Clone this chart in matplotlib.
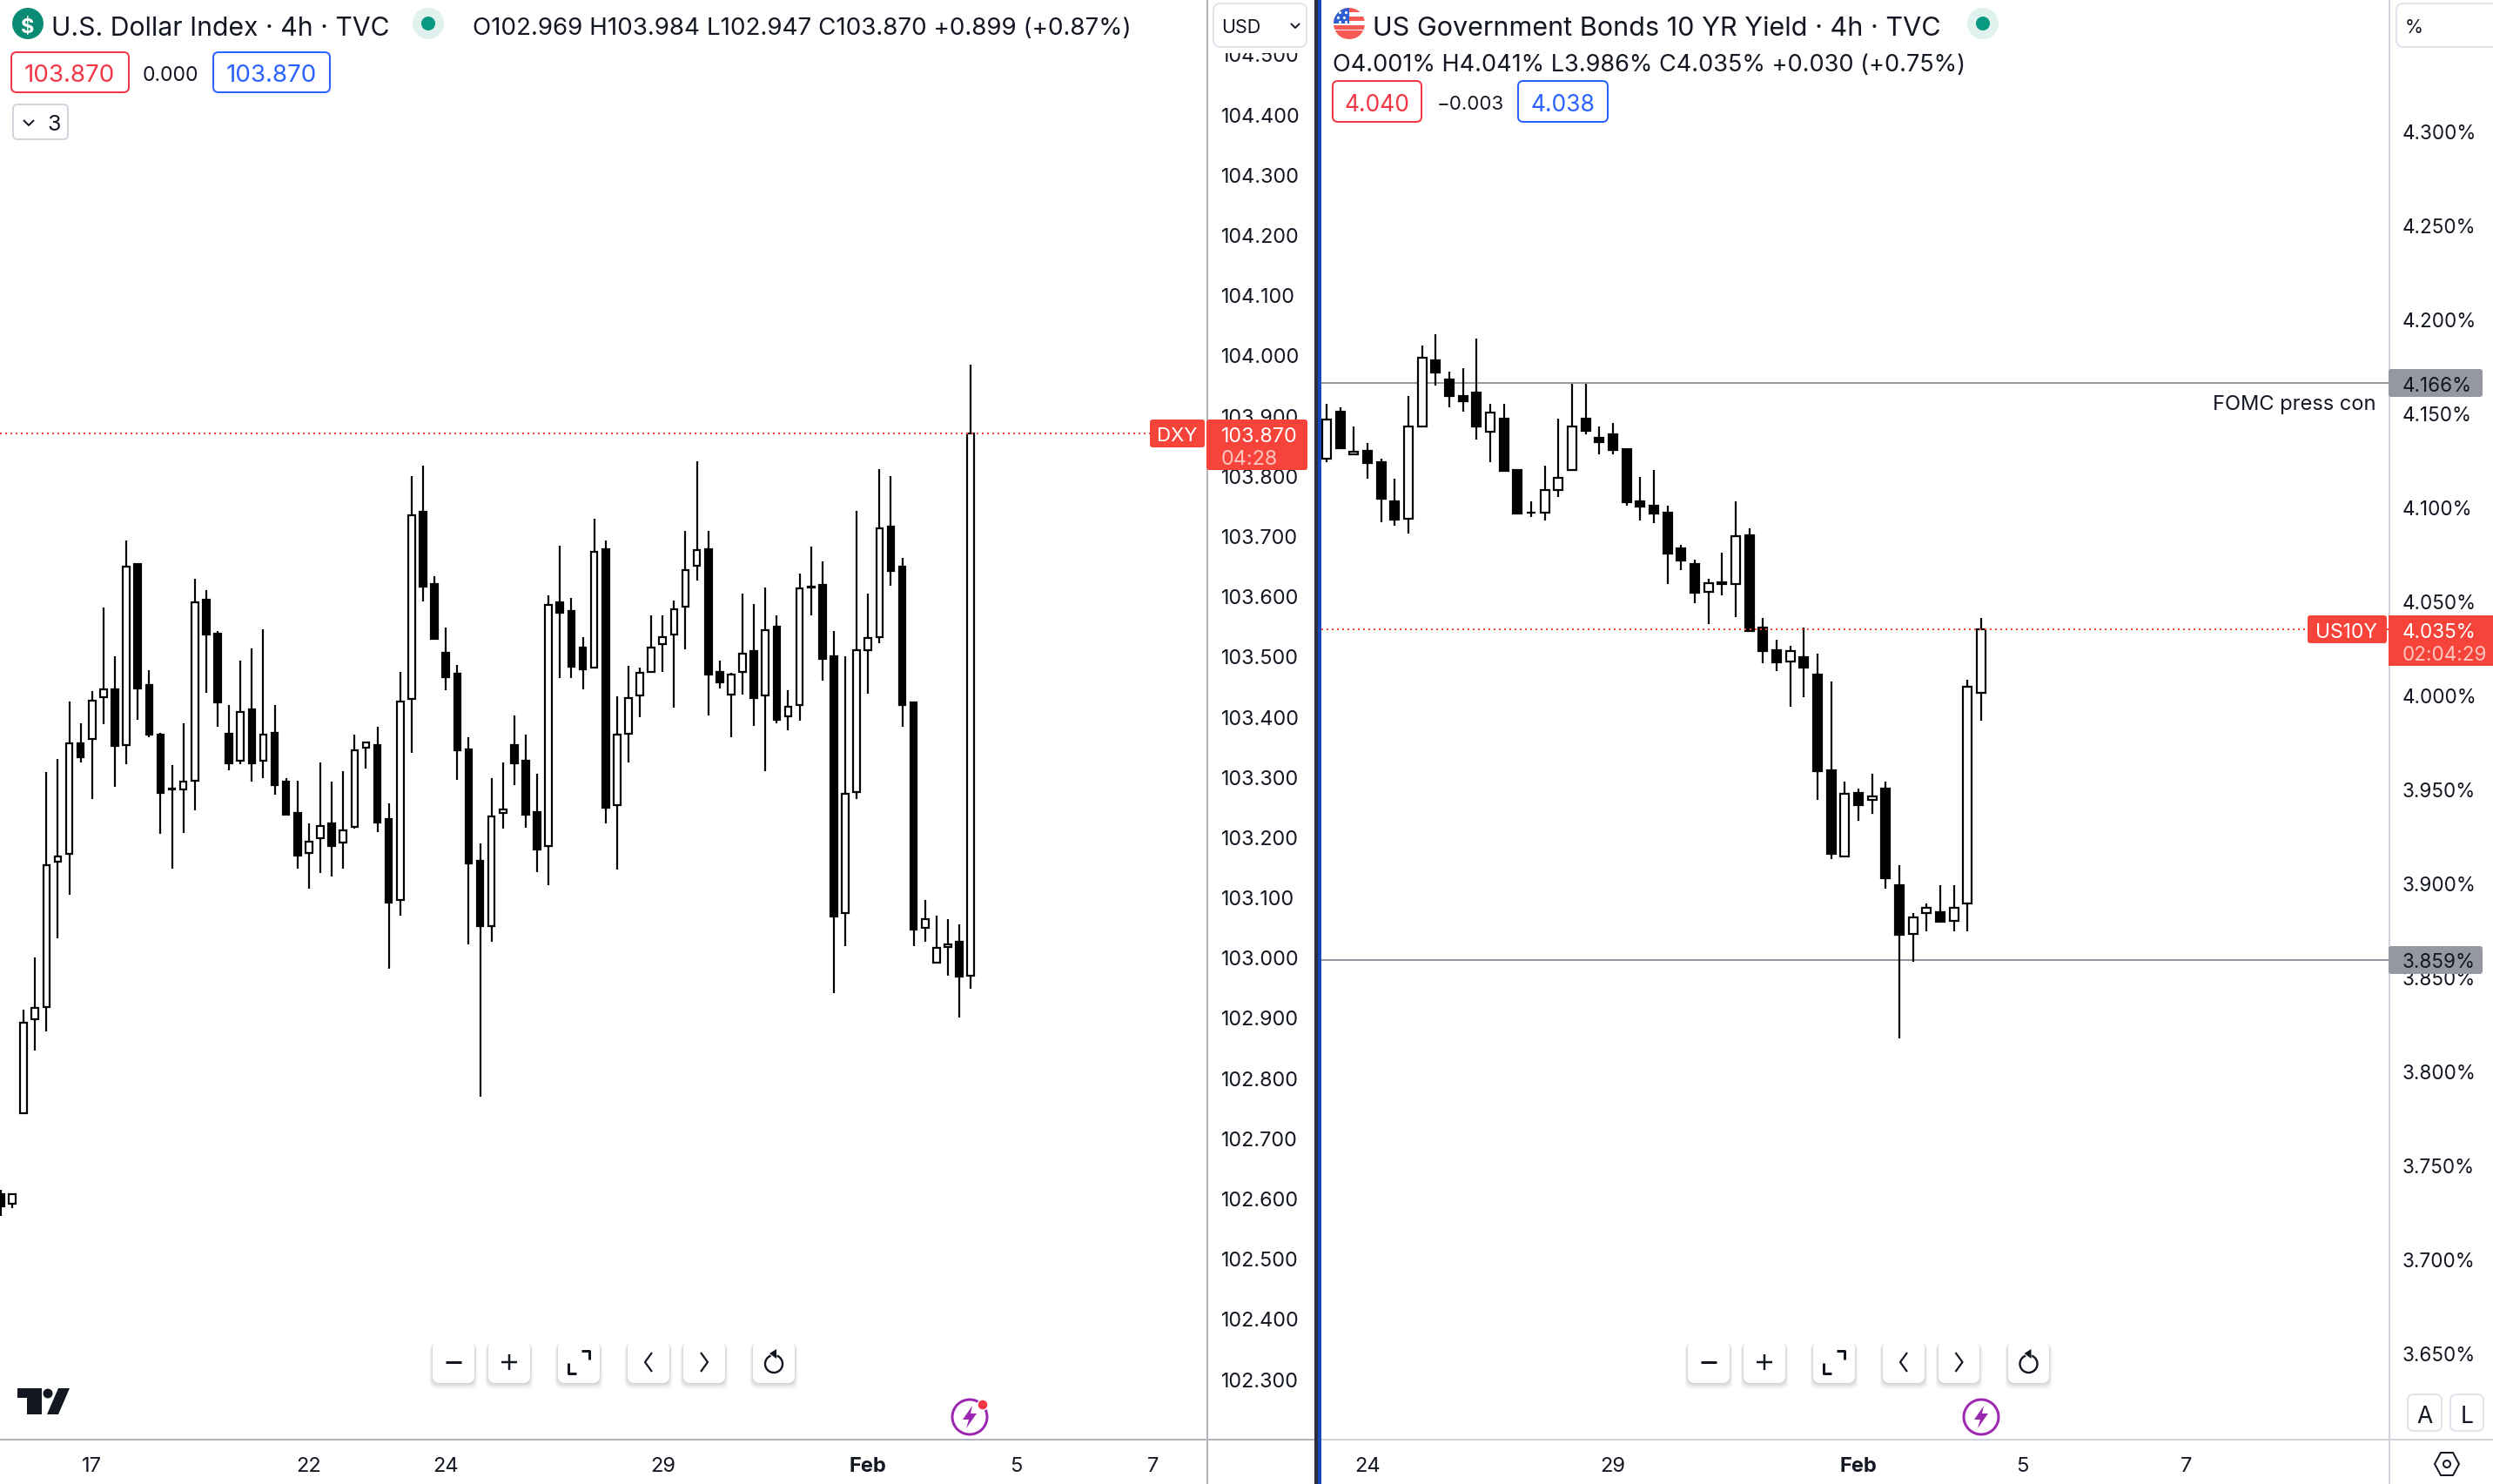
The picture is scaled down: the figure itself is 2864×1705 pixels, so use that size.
import numpy as np
import matplotlib
matplotlib.use("Agg")
import matplotlib.pyplot as plt
from matplotlib.patches import Rectangle, FancyBboxPatch, Circle, Polygon, Arc

plt.rcParams['font.family'] = ['Inter', 'DejaVu Sans']

# DXY 4h candles
dxy_open = [102.607, 102.591, 102.741, 102.897, 102.918, 103.158, 103.172, 103.355, 103.363, 103.432,
            103.445, 103.353, 103.653, 103.452, 103.369, 103.279, 103.279, 103.293, 103.594, 103.538,
            103.371, 103.327, 103.412, 103.327, 103.373, 103.291, 103.239, 103.173, 103.197, 103.223,
            103.191, 103.217, 103.348, 103.353, 103.230, 103.095, 103.429, 103.740, 103.620, 103.506,
            103.471, 103.345, 103.160, 103.052, 103.239, 103.353, 103.327, 103.241, 103.185, 103.590,
            103.575, 103.514, 103.481, 103.678, 103.253, 103.371, 103.435, 103.474, 103.520, 103.536,
            103.582, 103.650, 103.678, 103.474, 103.436, 103.474, 103.509, 103.435, 103.549, 103.400,
            103.419, 103.614, 103.618, 103.500, 103.074, 103.275, 103.510, 103.532, 103.715, 103.649,
            103.423, 103.049, 102.991, 103.017, 103.025, 102.969]
dxy_high = [102.614, 102.606, 102.913, 102.999, 103.308, 103.329, 103.425, 103.389, 103.442, 103.581,
            103.500, 103.692, 103.653, 103.477, 103.373, 103.319, 103.389, 103.629, 103.610, 103.542,
            103.419, 103.493, 103.513, 103.545, 103.419, 103.298, 103.293, 103.223, 103.324, 103.291,
            103.309, 103.370, 103.358, 103.383, 103.256, 103.474, 103.799, 103.817, 103.633, 103.548,
            103.486, 103.366, 103.189, 103.298, 103.324, 103.402, 103.370, 103.305, 103.601, 103.684,
            103.597, 103.532, 103.728, 103.692, 103.434, 103.484, 103.481, 103.568, 103.567, 103.593,
            103.708, 103.824, 103.708, 103.493, 103.473, 103.604, 103.587, 103.614, 103.567, 103.444,
            103.637, 103.682, 103.657, 103.542, 103.500, 103.741, 103.604, 103.811, 103.799, 103.663,
            103.423, 103.095, 103.069, 103.064, 103.054, 103.984]
dxy_low = [102.571, 102.584, 102.741, 102.845, 102.877, 103.032, 103.104, 103.324, 103.263, 103.387,
           103.283, 103.321, 103.394, 103.366, 103.205, 103.147, 103.207, 103.244, 103.439, 103.383,
           103.311, 103.321, 103.291, 103.298, 103.270, 103.236, 103.147, 103.114, 103.140, 103.134,
           103.147, 103.214, 103.314, 103.208, 102.981, 103.069, 103.340, 103.591, 103.528, 103.444,
           103.295, 103.022, 102.769, 103.025, 103.214, 103.286, 103.215, 103.142, 103.119, 103.464,
           103.464, 103.445, 103.481, 103.223, 103.145, 103.324, 103.399, 103.474, 103.474, 103.415,
           103.512, 103.626, 103.402, 103.447, 103.366, 103.436, 103.384, 103.309, 103.389, 103.377,
           103.393, 103.567, 103.460, 102.941, 103.019, 103.263, 103.438, 103.522, 103.617, 103.383,
           103.019, 103.026, 102.991, 102.970, 102.900, 102.947]
dxy_close = [102.587, 102.606, 102.892, 102.916, 103.153, 103.168, 103.355, 103.332, 103.426, 103.445,
             103.351, 103.649, 103.447, 103.369, 103.273, 103.280, 103.291, 103.590, 103.536, 103.423,
             103.322, 103.408, 103.322, 103.370, 103.286, 103.237, 103.169, 103.192, 103.218, 103.185,
             103.211, 103.343, 103.357, 103.224, 103.091, 103.425, 103.734, 103.616, 103.528, 103.465,
             103.344, 103.156, 103.052, 103.234, 103.246, 103.322, 103.237, 103.179, 103.585, 103.572,
             103.483, 103.478, 103.673, 103.249, 103.370, 103.431, 103.473, 103.514, 103.532, 103.578,
             103.643, 103.676, 103.470, 103.457, 103.470, 103.504, 103.431, 103.543, 103.394, 103.416,
             103.613, 103.615, 103.496, 103.068, 103.272, 103.510, 103.530, 103.712, 103.642, 103.419,
             103.046, 103.064, 103.016, 103.022, 102.968, 103.870]

# US10Y 4h candles
us10y_open = [4.1255, 4.1505, 4.1278, 4.1296, 4.1236, 4.1028, 4.0935, 4.1426, 4.1778, 4.1676,
              4.1588, 4.1607, 4.1400, 4.1468, 4.1194, 4.0971, 4.0969, 4.1090, 4.1194, 4.1468,
              4.1366, 4.1384, 4.1306, 4.1030, 4.1005, 4.0968, 4.0778, 4.0695, 4.0548, 4.0597,
              4.0590, 4.0848, 4.0356, 4.0236, 4.0176, 4.0198, 4.0106, 3.9597, 3.9138, 3.9476,
              3.9439, 3.9500, 3.8986, 3.8727, 3.8838, 3.8846, 3.8797, 3.8889, 4.0010]
us10y_high = [4.1546, 4.1528, 4.1426, 4.1338, 4.1255, 4.1148, 4.1588, 4.1857, 4.1917, 4.1718,
              4.1736, 4.1894, 4.1546, 4.1546, 4.1194, 4.1028, 4.1218, 4.1468, 4.1656, 4.1656,
              4.1426, 4.1445, 4.1306, 4.1158, 4.1194, 4.1005, 4.0797, 4.0718, 4.0616, 4.0755,
              4.1028, 4.0885, 4.0407, 4.0295, 4.0259, 4.0356, 4.0217, 4.0069, 3.9536, 3.9500,
              3.9578, 3.9536, 3.9096, 3.8838, 3.8889, 3.8986, 3.8986, 4.0078, 4.0410]
us10y_low = [4.1239, 4.1313, 4.1278, 4.1151, 4.0920, 4.0901, 4.0860, 4.1426, 4.1647, 4.1531,
             4.1508, 4.1360, 4.1239, 4.1193, 4.0966, 4.0948, 4.0929, 4.1050, 4.1194, 4.1387,
             4.1281, 4.1281, 4.1008, 4.0929, 4.0911, 4.0591, 4.0661, 4.0489, 4.0378, 4.0531,
             4.0411, 4.0337, 4.0168, 4.0128, 3.9938, 3.9989, 3.9442, 3.9124, 3.9138, 3.9331,
             3.9369, 3.8970, 3.8173, 3.8581, 3.8744, 3.8795, 3.8744, 3.8744, 3.9860]
us10y_close = [4.1466, 4.1313, 4.1295, 4.1235, 4.1045, 4.0934, 4.1425, 4.1795, 4.1716, 4.1587,
               4.1563, 4.1425, 4.1503, 4.1193, 4.0966, 4.0971, 4.1087, 4.1156, 4.1425, 4.1406,
               4.1346, 4.1304, 4.1026, 4.1003, 4.0966, 4.0753, 4.0716, 4.0545, 4.0596, 4.0587,
               4.0846, 4.0337, 4.0235, 4.0174, 4.0235, 4.0145, 3.9595, 3.9155, 3.9474, 3.9415,
               3.9458, 3.9026, 3.8725, 3.8817, 3.8868, 3.8795, 3.8868, 4.0043, 4.0350]

dxy_ticks = [102.3, 102.4, 102.5, 102.6, 102.7, 102.8, 102.9, 103.0, 103.1, 103.2, 103.3, 103.4,
             103.5, 103.6, 103.7, 103.8, 103.9, 104.0, 104.1, 104.2, 104.3, 104.4, 104.5]
us10y_ticks = [3.65, 3.70, 3.75, 3.80, 3.85, 3.90, 3.95, 4.00, 4.05, 4.10, 4.15, 4.20, 4.25, 4.30]
dxy_date_pos = [8, 27, 39, 58, 76, 89, 101]
dxy_date_labels = ['17', '22', '24', '29', 'Feb', '5', '7']
us10y_date_pos = [3, 21, 39, 51, 63]
us10y_date_labels = ['24', '29', 'Feb', '5', '7']

dxy_last = 103.870
us10y_last = 4.035
us10y_levels = [4.166, 3.859]

W, H = 2864, 1706
INK = '#131722'
RED = '#f7443b'
GREY = '#9598a1'
FONT_PX = 0.72  # pt per pixel at dpi 100


def pane(rect_px, xlim, ylim):
    x0, y0, x1, y1 = rect_px
    ax = fig.add_axes([x0 / W, 1 - y1 / H, (x1 - x0) / W, (y1 - y0) / H])
    ax.set_xlim(*xlim)
    ax.set_ylim(*ylim)
    for s in ax.spines.values():
        s.set_visible(False)
    return ax


def candles(ax, o, h, l, c, width):
    o, h, l, c = map(np.array, (o, h, l, c))
    x = np.arange(len(o))
    up = c >= o
    ax.vlines(x, l, h, color='black', lw=2.2 * FONT_PX, zorder=2)
    ax.bar(x, np.abs(c - o), bottom=np.minimum(o, c), width=width,
           color=np.where(up, 'white', 'black'), edgecolor='black', linewidth=2.2 * FONT_PX, zorder=3)


def axis_labels(ax, yticks, yfmt, ysize, ypad, xpos, xlabels):
    ax.yaxis.tick_right()
    ax.set_yticks(yticks)
    ax.set_yticklabels([yfmt % t for t in yticks], fontsize=ysize, color=INK)
    ax.tick_params(axis='y', length=0, pad=ypad)
    ax.set_xticks(xpos)
    ax.set_xticklabels(xlabels, fontsize=17, color=INK)
    ax.tick_params(axis='x', length=0, pad=13.5)
    for lab in ax.get_xticklabels():
        if lab.get_text() == 'Feb':
            lab.set_fontweight('bold')


fig = plt.figure(figsize=(W / 100, H / 100), dpi=100, facecolor='white')

ax_l = pane((0, 0, 1387, 1655), (-0.07, 105.73), (102.199, 104.591))
candles(ax_l, dxy_open, dxy_high, dxy_low, dxy_close, 0.58)
ax_l.axhline(dxy_last, color=RED, lw=2 * FONT_PX, ls=(0, (1, 2)), zorder=4)
axis_labels(ax_l, dxy_ticks, '%.3f', 16.8, 11.5, dxy_date_pos, dxy_date_labels)

ax_r = pane((1518, 0, 2745, 1655), (-0.38, 77.92), (3.6038, 4.37005))
candles(ax_r, us10y_open, us10y_high, us10y_low, us10y_close, 0.64)
ax_r.axhline(us10y_last, color=RED, lw=2 * FONT_PX, ls=(0, (1, 2)), zorder=4)
for lv in us10y_levels:
    ax_r.axhline(lv, color=GREY, lw=2 * FONT_PX, zorder=1)
axis_labels(ax_r, us10y_ticks, '%.3f%%', 16.2, 10.8, us10y_date_pos, us10y_date_labels)

# chrome layer in pixel coordinates
ov = fig.add_axes([0, 0, 1, 1], zorder=10)
ov.set_xlim(0, W)
ov.set_ylim(H, 0)
ov.axis('off')
ov.patch.set_alpha(0)


def box(x0, y0, x1, y1, fc='white', ec='none', lw=2, r=5, z=5, alpha=None):
    p = FancyBboxPatch((x0 + r, y0 + r), x1 - x0 - 2 * r, y1 - y0 - 2 * r,
                       boxstyle='round,pad=%f,rounding_size=%f' % (r, r),
                       fc=fc, ec=ec, lw=lw * FONT_PX, zorder=z, alpha=alpha)
    ov.add_patch(p)


def txt(x, y, s, size=16, color=INK, ha='left', weight='normal', z=8):
    ov.text(x, y, s, fontsize=size, color=color, ha=ha, va='center_baseline', fontweight=weight, zorder=z)


def line(xs, ys, color=INK, lw=2, z=8, **kw):
    ov.plot(xs, ys, color=color, lw=lw * FONT_PX, zorder=z, solid_capstyle='butt', **kw)


# pane borders
ov.add_patch(Rectangle((1510, 0), 4, H, fc='#2a2e39', ec='none', zorder=3))
ov.add_patch(Rectangle((1514, 0), 4, H, fc='#1848b8', ec='none', zorder=3))
line([1387, 1387], [0, H], color='#b2b5be', z=2)
line([2745, 2745], [0, H], color='#d1d4dc', z=2)
line([0, 1510], [1655, 1655], color='#b2b5be', z=2)
line([1518, W], [1655, 1655], color='#d1d4dc', z=2)

# masks over the price scale tops
ov.add_patch(Rectangle((1388, 0), 122, 62, fc='white', ec='none', zorder=3))
box(1394, 5, 1501, 55, fc='white', ec='#e0e3eb', lw=2, r=8)
txt(1403, 30, 'USD', size=15.5)
line([1483, 1488, 1493], [28, 33, 28], lw=2)
box(2753, 5, 2880, 55, fc='white', ec='#e0e3eb', lw=2, r=8)
txt(2763, 30, '%', size=15.5)

# left header
ov.add_patch(Circle((32, 28), 18, fc='#0b8a74', ec='none', zorder=5))
txt(32, 29, '$', size=17, color='white', ha='center', weight='bold')
txt(59, 30, 'U.S. Dollar Index · 4h · TVC', size=21.7)
ov.add_patch(Circle((492, 28), 18, fc='#dff2ee', ec='none', zorder=5))
ov.add_patch(Circle((492, 28), 8, fc='#089981', ec='none', zorder=6))
txt(543, 30, 'O102.969 H103.984 L102.947 C103.870 +0.899 (+0.87%)', size=20)
box(13, 61, 148, 107, ec='#f23645', r=6)
txt(80, 84, '103.870', size=20, color='#f23645', ha='center')
txt(196, 84, '0.000', size=16.5, ha='center')
box(245, 61, 379, 107, ec='#2962ff', r=6)
txt(312, 84, '103.870', size=20, color='#2962ff', ha='center')
box(15, 121, 78, 161, ec='#d1d4dc', r=5)
line([27, 33, 39], [139, 145, 139], lw=2)
txt(62, 141, '3', size=18, ha='center')

# right header
ov.add_patch(Circle((1550, 28), 18, fc='white', ec='none', zorder=5))
flag_clip = Circle((1550, 28), 18, transform=ov.transData)
for yy in (10, 20, 30, 40):
    bar = Rectangle((1530, yy), 40, 5, fc='#f55b54', ec='none', zorder=6)
    ov.add_patch(bar)
    bar.set_clip_path(flag_clip)
low = Rectangle((1530, 36), 40, 12, fc='#f55b54', ec='none', zorder=6)
ov.add_patch(low)
low.set_clip_path(flag_clip)
canton = Rectangle((1530, 8), 20, 20, fc='#2f5fd0', ec='none', zorder=7)
ov.add_patch(canton)
canton.set_clip_path(flag_clip)
ov.scatter([1539, 1546, 1537, 1544, 1539, 1546], [15, 15, 21, 21, 26, 26], s=5, c='white', zorder=8, linewidths=0)
txt(1577, 30, 'US Government Bonds 10 YR Yield · 4h · TVC', size=22)
ov.add_patch(Circle((2278, 28), 18, fc='#dff2ee', ec='none', zorder=5))
ov.add_patch(Circle((2278, 28), 8, fc='#089981', ec='none', zorder=6))
txt(1531, 72, 'O4.001% H4.041% L3.986% C4.035% +0.030 (+0.75%)', size=19.5)
box(1531, 94, 1633, 141, ec='#f23645', r=6)
txt(1582, 118, '4.040', size=19, color='#f23645', ha='center')
txt(1689, 118, '−0.003', size=16, ha='center')
box(1744, 94, 1847, 141, ec='#2962ff', r=6)
txt(1795, 118, '4.038', size=19, color='#2962ff', ha='center')

# last price tags
box(1321, 483, 1384, 515, fc=RED, r=3, z=5)
txt(1352, 499, 'DXY', size=16, color='white', ha='center')
box(1386, 483, 1502, 541, fc=RED, r=3, z=5)
txt(1403, 499, '103.870', size=16.8, color='white')
txt(1403, 525, '04:28', size=16.8, color='#fdc4c0')

box(2651, 708, 2742, 740, fc=RED, r=3, z=5)
txt(2696, 724, 'US10Y', size=16.5, color='white', ha='center')
ov.add_patch(Rectangle((2744, 708), 120, 58, fc=RED, ec='none', zorder=5))
txt(2760, 724, '4.035%', size=16.2, color='white')
txt(2760, 750, '02:04:29', size=16.2, color='#fdc4c0')

for lv_y, lab in ((441, '4.166%'), (1104, '3.859%')):
    box(2744, lv_y - 16, 2852, lv_y + 16, fc=GREY, r=3, z=5)
    txt(2760, lv_y, lab, size=16.2)
txt(2729, 462, 'FOMC press con', size=17, ha='right')


# bottom toolbar
def tool_btn(x0, x1):
    for i, a in ((7, 0.03), (5, 0.04), (3, 0.05), (1, 0.06)):
        box(x0 - i / 2, 1544, x1 + i / 2, 1590 + i, fc='black', r=8, z=4, alpha=a)
    box(x0, 1542, x1, 1590, fc='white', r=8, z=5)


def toolbar(xs):
    for x0, x1 in xs:
        tool_btn(x0, x1)
    cx = [(a + b) / 2 for a, b in xs]
    line([cx[0] - 9, cx[0] + 9], [1566, 1566], lw=3)
    line([cx[1] - 9, cx[1] + 9], [1566, 1566], lw=2.5)
    line([cx[1], cx[1]], [1557, 1575], lw=2.5)
    line([cx[2] - 12, cx[2] - 12, cx[2] - 3], [1567, 1579, 1579], lw=3)
    line([cx[2] + 3, cx[2] + 12, cx[2] + 12], [1553, 1553, 1563], lw=3)
    line([cx[3] + 4, cx[3] - 4, cx[3] + 4], [1555, 1566, 1577], lw=2.2)
    line([cx[4] - 4, cx[4] + 4, cx[4] - 4], [1555, 1566, 1577], lw=2.2)
    ov.add_patch(Arc((cx[5], 1568), 20, 20, theta1=-70, theta2=250, ec=INK, lw=2.4 * FONT_PX, zorder=8))
    ov.add_patch(Polygon([(cx[5] - 5, 1556), (cx[5] + 3, 1551), (cx[5] + 3, 1562)], fc=INK, ec='none', zorder=8))


toolbar([(497, 545), (561, 609), (641, 689), (721, 769), (785, 833), (865, 913)])
toolbar([(1939, 1987), (2003, 2051), (2083, 2131), (2163, 2211), (2227, 2274), (2307, 2354)])


def bolt(cx, cy):
    ov.add_patch(Circle((cx, cy), 20, fc='white', ec='#9c27b0', lw=3 * FONT_PX, zorder=6))
    ov.add_patch(Polygon([(cx + 3, cy - 13), (cx - 8, cy + 3), (cx - 1, cy + 3), (cx - 4, cy + 13),
                          (cx + 8, cy - 4), (cx + 1, cy - 4)], fc='#9c27b0', ec='none', zorder=7))


bolt(1114, 1629)
ov.add_patch(Circle((1129, 1615), 6, fc='#f23645', ec='white', lw=1, zorder=8))
bolt(2276, 1629)

# TV logo
LOGO = '#131722'
ov.add_patch(Polygon([(20, 1596), (48, 1596), (48, 1626), (31, 1626), (31, 1607), (20, 1607)], fc=LOGO, ec='none', zorder=6))
ov.add_patch(Circle((55, 1602), 5.5, fc=LOGO, ec='none', zorder=6))
ov.add_patch(Polygon([(67, 1596), (80, 1596), (67, 1626), (54, 1626)], fc=LOGO, ec='none', zorder=6))

# A / L and settings
box(2766, 1603, 2805, 1645, ec='#e0e3eb', r=7)
txt(2785, 1625, 'A', size=19, ha='center')
box(2815, 1603, 2853, 1645, ec='#e0e3eb', r=7)
txt(2834, 1625, 'L', size=19, ha='center')
ang = np.radians([0, 60, 120, 180, 240, 300])
ov.add_patch(Polygon(np.c_[2811 + 14 * np.cos(ang), 1683 + 15 * np.sin(ang)], fc='none', ec=INK, lw=2 * FONT_PX, zorder=8))
ov.add_patch(Circle((2811, 1683), 4, fc='none', ec=INK, lw=2 * FONT_PX, zorder=8))

fig.savefig('out.png', dpi=100)
